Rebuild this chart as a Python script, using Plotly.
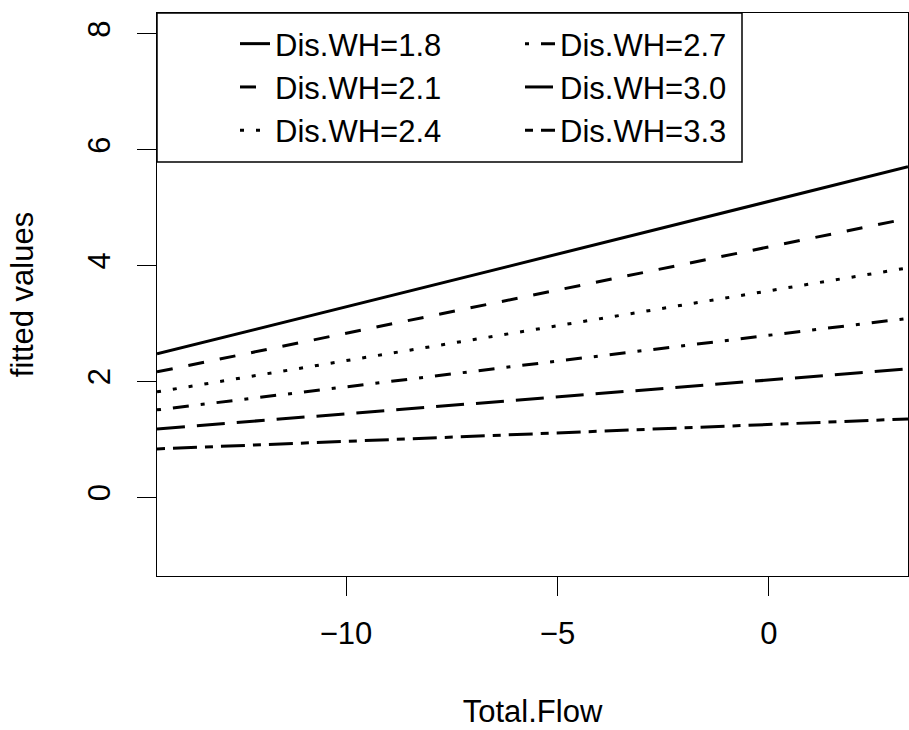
import plotly.graph_objects as go

# ---- data ----
total_flow = [-14.47, 3.29]
dis_wh_labels = ["Dis.WH=1.8", "Dis.WH=2.1", "Dis.WH=2.4",
                 "Dis.WH=2.7", "Dis.WH=3.0", "Dis.WH=3.3"]
fit_18 = [2.475, 5.705]
fit_21 = [2.164, 4.813]
fit_24 = [1.819, 3.960]
fit_27 = [1.508, 3.088]
fit_30 = [1.180, 2.216]
fit_33 = [0.834, 1.352]
x_ticks = [-10, -5, 0]
y_ticks = [0, 2, 4, 6, 8]

series = [fit_18, fit_21, fit_24, fit_27, fit_30, fit_33]
dashes = ["solid", "16px,16px", "4px,12px", "4px,12px,16px,12px",
          "28px,12px", "8px,8px,24px,8px"]
legend_ids = ["legend", "legend", "legend", "legend2", "legend2", "legend2"]

FONT = "Liberation Sans, Arial, sans-serif"

fig = go.Figure()
for lab, ys, d, lg in zip(dis_wh_labels, series, dashes, legend_ids):
    fig.add_trace(go.Scatter(
        x=total_flow, y=ys, mode="lines", name=lab,
        line=dict(color="black", width=3, dash=d),
        legend=lg, hoverinfo="skip"))

W, H = 909, 730
L, R, T, B = 157, 1, 13, 154
pw = W - L - R
ph = H - T - B

def px_x(px):
    return (px - L) / pw

def px_y(py):
    return 1 - (py - T) / ph

legend_common = dict(
    font=dict(family=FONT, size=31, color="black"),
    bgcolor="rgba(0,0,0,0)", borderwidth=0,
    xanchor="left", yanchor="top", orientation="v",
    traceorder="normal", tracegroupgap=0,
)

fig.update_layout(
    width=W, height=H,
    margin=dict(l=L, r=R, t=T, b=B, pad=0, autoexpand=False),
    paper_bgcolor="white", plot_bgcolor="white",
    font=dict(family=FONT, size=31, color="black"),
    showlegend=True,
    legend=dict(x=px_x(235), y=px_y(17), **legend_common),
    legend2=dict(x=px_x(520), y=px_y(17), **legend_common),
    shapes=[dict(type="rect", xref="paper", yref="paper",
                 x0=0, x1=px_x(742), y0=px_y(162), y1=1,
                 line=dict(color="black", width=1.5))],
)

fig.update_xaxes(
    range=[-14.47, 3.29], tickvals=x_ticks, ticks="outside", ticklen=19,
    tickwidth=1, tickcolor="black", showline=True, linecolor="black",
    linewidth=1, mirror=True, showgrid=False, zeroline=False,
    automargin=False, ticklabelstandoff=11,
    tickfont=dict(family=FONT, size=31),
    title=dict(text="Total.Flow", font=dict(family=FONT, size=31), standoff=50),
)
fig.update_yaxes(
    range=[-1.36, 8.36], tickvals=y_ticks, ticks="outside", ticklen=19,
    tickwidth=1, tickcolor="black", showline=True, linecolor="black",
    linewidth=1, mirror=True, showgrid=False, zeroline=False,
    automargin=False, tickangle=-90, ticklabelstandoff=15,
    tickfont=dict(family=FONT, size=31),
    title=dict(text="fitted values", font=dict(family=FONT, size=31), standoff=38),
)

fig.write_html(
    "out.html",
    config={"displayModeBar": False},
    post_script="document.body.style.margin='0';document.body.style.overflow='hidden';",
)
